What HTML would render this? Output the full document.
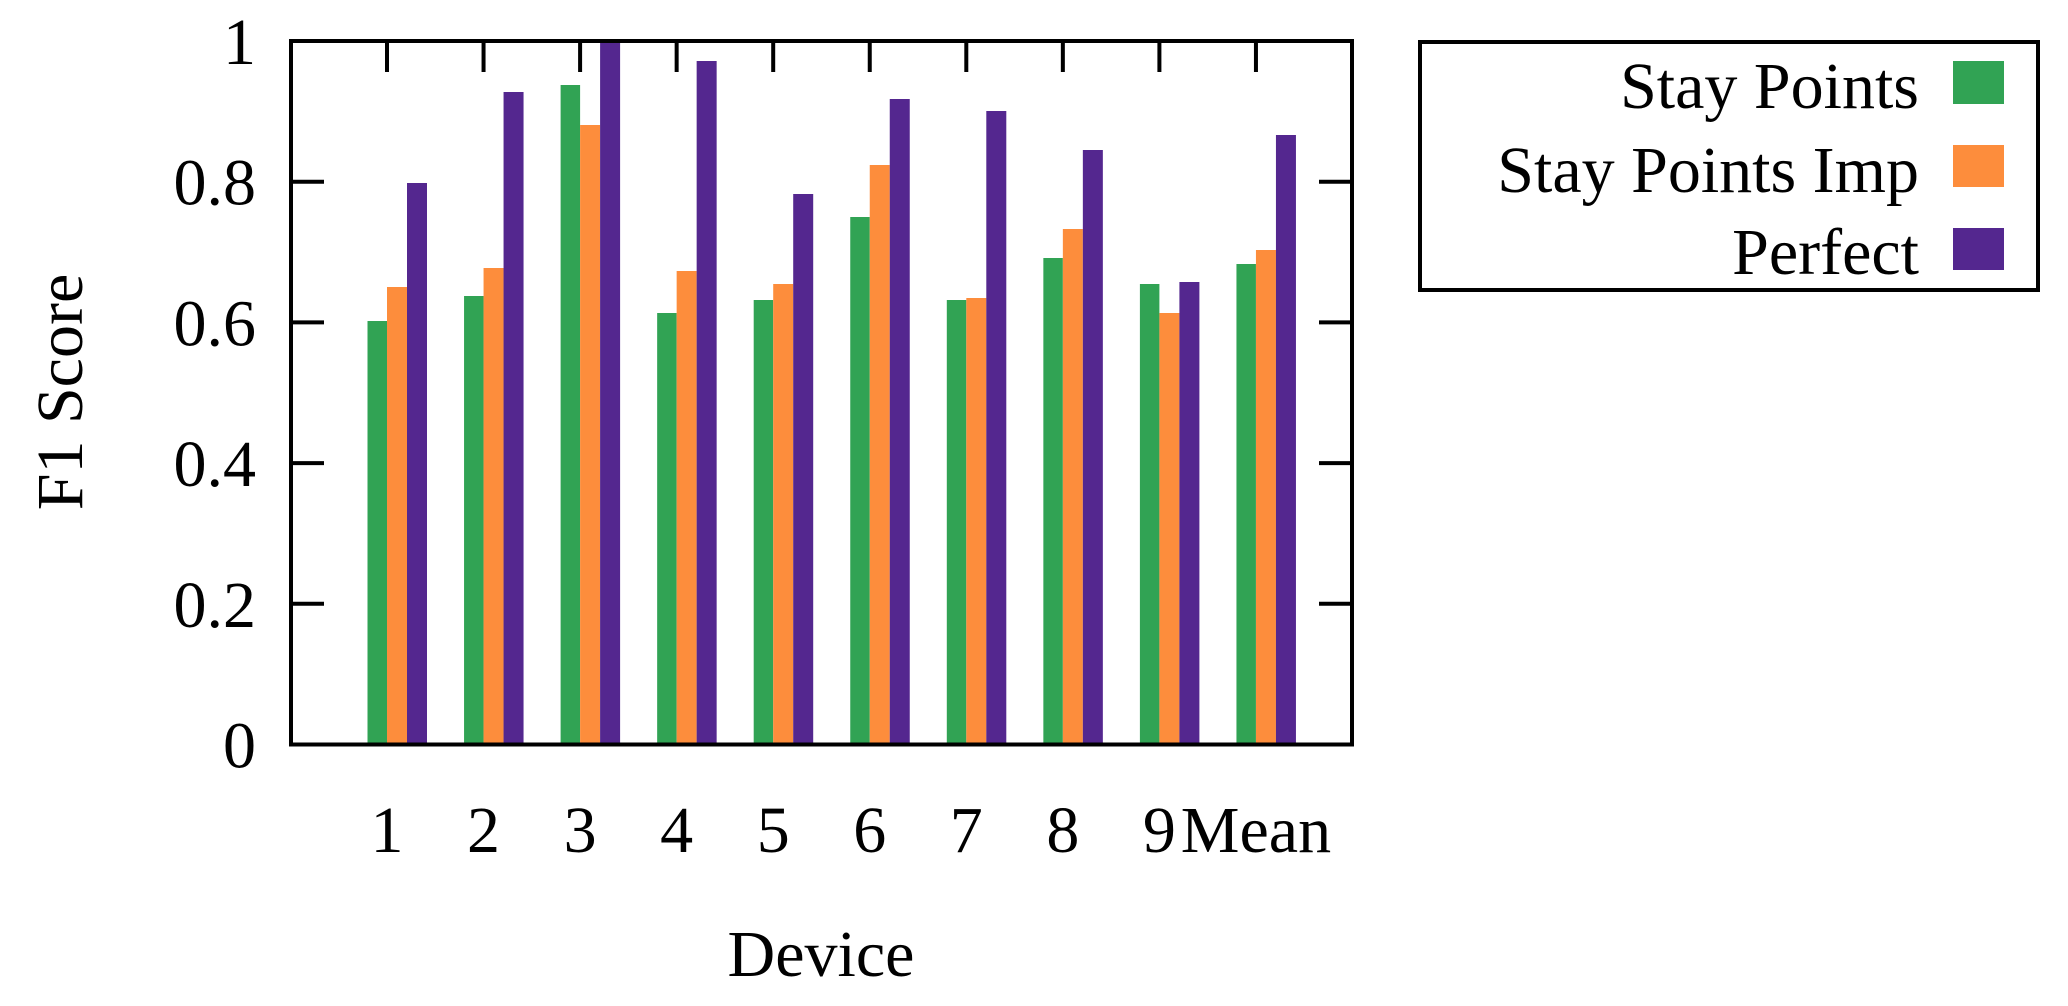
<!DOCTYPE html>
<html><head><meta charset="utf-8"><style>html,body{margin:0;padding:0;background:#fff}svg{display:block}</style></head>
<body>
<svg width="2068" height="1006" viewBox="0 0 2068 1006" xmlns="http://www.w3.org/2000/svg" font-family="'Liberation Serif', serif" font-size="66" fill="#000">
<g id="bars">
<!-- groups tick at 387 + 96.55*i; green [t-19.5,t], orange [t,t+20], purple [t+20,t+40] -->
</g>
<script>
</script>
<g>
<!-- generated statically below -->
</g>
<g stroke="none">
<!-- values -->
</g>
<g id="static"></g>
<g>
<rect x="367.5" y="321" width="19.5" height="424" fill="#31a354"/>
<rect x="387" y="287" width="20" height="458" fill="#fd8d3c"/>
<rect x="407" y="183" width="20" height="562" fill="#54278f"/>

<rect x="464.05" y="296" width="19.5" height="449" fill="#31a354"/>
<rect x="483.55" y="268" width="20" height="477" fill="#fd8d3c"/>
<rect x="503.55" y="92" width="20" height="653" fill="#54278f"/>

<rect x="560.6" y="85" width="19.5" height="660" fill="#31a354"/>
<rect x="580.1" y="125" width="20" height="620" fill="#fd8d3c"/>
<rect x="600.1" y="41" width="20" height="704" fill="#54278f"/>

<rect x="657.15" y="313" width="19.5" height="432" fill="#31a354"/>
<rect x="676.65" y="271" width="20" height="474" fill="#fd8d3c"/>
<rect x="696.65" y="61" width="20" height="684" fill="#54278f"/>

<rect x="753.7" y="300" width="19.5" height="445" fill="#31a354"/>
<rect x="773.2" y="284" width="20" height="461" fill="#fd8d3c"/>
<rect x="793.2" y="194" width="20" height="551" fill="#54278f"/>

<rect x="850.25" y="217" width="19.5" height="528" fill="#31a354"/>
<rect x="869.75" y="165" width="20" height="580" fill="#fd8d3c"/>
<rect x="889.75" y="99" width="20" height="646" fill="#54278f"/>

<rect x="946.8" y="300" width="19.5" height="445" fill="#31a354"/>
<rect x="966.3" y="298" width="20" height="447" fill="#fd8d3c"/>
<rect x="986.3" y="111" width="20" height="634" fill="#54278f"/>

<rect x="1043.35" y="258" width="19.5" height="487" fill="#31a354"/>
<rect x="1062.85" y="229" width="20" height="516" fill="#fd8d3c"/>
<rect x="1082.85" y="150" width="20" height="595" fill="#54278f"/>

<rect x="1139.9" y="284" width="19.5" height="461" fill="#31a354"/>
<rect x="1159.4" y="313" width="20" height="432" fill="#fd8d3c"/>
<rect x="1179.4" y="282" width="20" height="463" fill="#54278f"/>

<rect x="1236.45" y="264" width="19.5" height="481" fill="#31a354"/>
<rect x="1255.95" y="250" width="20" height="495" fill="#fd8d3c"/>
<rect x="1275.95" y="135" width="20" height="610" fill="#54278f"/>
</g>
<g stroke="#000" stroke-width="4" fill="none">
<rect x="291" y="41" width="1061" height="703.5"/>
<!-- left ticks -->
<path d="M291 181.7h33M291 322.4h33M291 463.1h33M291 603.8h33"/>
<path d="M1352 181.7h-33M1352 322.4h-33M1352 463.1h-33M1352 603.8h-33"/>
<path d="M387 41v31M483.55 41v31M580.1 41v31M676.65 41v31M773.2 41v31M869.75 41v31M966.3 41v31M1062.85 41v31M1159.4 41v31M1255.95 41v31"/>
</g>
<g text-anchor="end">
<text x="256" y="64">1</text>
<text x="256" y="204.7">0.8</text>
<text x="256" y="345.4">0.6</text>
<text x="256" y="486.1">0.4</text>
<text x="256" y="626.8">0.2</text>
<text x="256" y="767.5">0</text>
</g>
<g text-anchor="middle">
<text x="387" y="852">1</text>
<text x="483.55" y="852">2</text>
<text x="580.1" y="852">3</text>
<text x="676.65" y="852">4</text>
<text x="773.2" y="852">5</text>
<text x="869.75" y="852">6</text>
<text x="966.3" y="852">7</text>
<text x="1062.85" y="852">8</text>
<text x="1159.4" y="852">9</text>
<text x="1255.95" y="852">Mean</text>
<text x="821" y="976">Device</text>
<text transform="translate(82,392) rotate(-90)">F1 Score</text>
</g>
<rect x="1420" y="42" width="618" height="248" fill="none" stroke="#000" stroke-width="4"/>
<g text-anchor="end">
<text x="1919" y="108">Stay Points</text>
<text x="1919" y="192">Stay Points Imp</text>
<text x="1919" y="274">Perfect</text>
</g>
<rect x="1953" y="61" width="51" height="43" fill="#31a354"/>
<rect x="1953" y="145" width="51" height="42" fill="#fd8d3c"/>
<rect x="1953" y="228" width="51" height="42" fill="#54278f"/>
</svg>
</body></html>
